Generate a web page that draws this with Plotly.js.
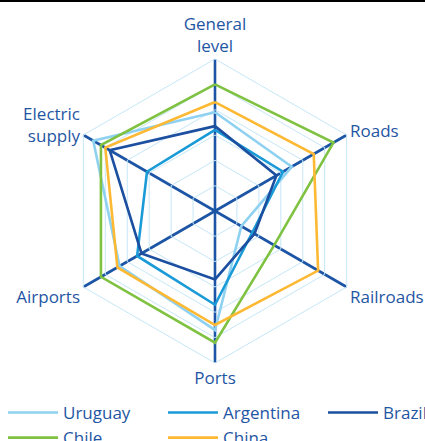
<!DOCTYPE html>
<html>
<head>
<meta charset="utf-8">
<script src="https://cdn.plot.ly/plotly-3.0.1.min.js"></script>
<style>
html,body{margin:0;padding:0;background:#fff;overflow:hidden;width:425px;height:441px;}
#chart{width:500px;height:441px;}
</style>
</head>
<body>
<div id="chart"></div>
<script>
// Categories (clockwise from top)
var categories = ["General level", "Roads", "Railroads", "Ports", "Airports", "Electric supply"];
var categoryLabels = ["General<br>level", "Roads", "Railroads", "Ports", "Airports", "Electric<br>supply"];

// Series values (1-7 scale)
var uruguay   = [4.9, 4.5, 2.2, 5.7, 5.35, 6.55];
var argentina = [4.2, 4.1, 2.7, 4.7, 4.55, 4.1];
var brazil    = [4.35, 3.8, 2.8, 3.7, 4.35, 5.8];
var chile     = [6.0, 6.4, 3.7, 6.2, 6.2, 6.2];
var china     = [5.3, 5.5, 5.7, 5.5, 5.45, 6.0];

var seriesNames = ["Uruguay", "Argentina", "Brazil", "Chile", "China"];
var seriesValues = [uruguay, argentina, brazil, chile, china];
var seriesColors = ["#8fd1f1", "#1a9bd8", "#1c4f9f", "#7fc241", "#fdb933"];

var textColor = "#1f56a3";
var fontFamily = "'Open Sans', 'Noto Sans', sans-serif";

// The figure is wider than the 425px window (like the reference, whose legend runs off the right edge)
var W = 500, H = 441;

function closeLoop(arr) { return arr.concat([arr[0]]); }

var traces = seriesNames.map(function (name, i) {
  return {
    type: "scatterpolar",
    mode: "lines",
    name: name,
    r: closeLoop(seriesValues[i]),
    theta: closeLoop(categories),
    line: { color: seriesColors[i], width: 2.6 },
    hoverinfo: "name+r+theta"
  };
});

var layout = {
  width: W,
  height: H,
  margin: { l: 0, r: 0, t: 0, b: 0, autoexpand: false },
  paper_bgcolor: "#ffffff",
  plot_bgcolor: "#ffffff",
  font: { family: fontFamily, color: textColor, size: 17 },
  showlegend: true,
  legend: {
    orientation: "h",
    x: 3 / W, xanchor: "left",
    y: 1 - 395 / H, yanchor: "top",
    entrywidth: 95,
    itemwidth: 50,
    font: { family: fontFamily, color: textColor, size: 17 },
    bgcolor: "rgba(0,0,0,0)"
  },
  polar: {
    domain: { x: [63 / W, 367 / W], y: [1 - 363 / H, 1 - 59 / H] },
    gridshape: "linear",
    bgcolor: "#ffffff",
    radialaxis: {
      range: [1, 7],
      dtick: 1,
      tick0: 1,
      showline: false,
      showticklabels: false,
      ticks: "",
      gridcolor: "#c6e7f7",
      gridwidth: 1
    },
    angularaxis: {
      type: "category",
      categoryarray: categories,
      tickmode: "array",
      tickvals: categories,
      ticktext: categoryLabels,
      direction: "clockwise",
      rotation: 90,
      ticks: "",
      showline: true,
      linecolor: "#c6e7f7",
      linewidth: 1,
      gridcolor: "#1c55a5",
      gridwidth: 2.6,
      tickfont: { family: fontFamily, color: textColor, size: 17 }
    }
  },
  shapes: [
    { type: "line", xref: "paper", yref: "paper", x0: 0, x1: 1, y0: 1 - 1 / H, y1: 1 - 1 / H,
      line: { color: "#000000", width: 2 } }
  ]
};

Plotly.newPlot("chart", traces, layout, { displayModeBar: false, staticPlot: true });
</script>
</body>
</html>
